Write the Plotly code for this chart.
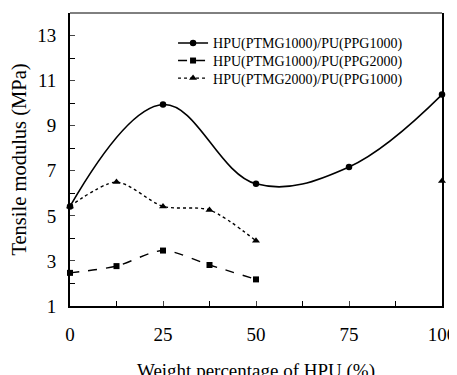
import plotly.graph_objects as go

x1 = [0, 25, 50, 75, 100]
y1 = [5.42, 9.94, 6.42, 7.17, 10.38]
x2 = [0, 12.5, 25, 37.5, 50]
y2 = [2.47, 2.77, 3.46, 2.82, 2.18]
x3 = [0, 12.5, 25, 37.5, 50, None, 100]
y3 = [5.42, 6.5, 5.42, 5.26, 3.89, None, 6.55]
names = ["HPU(PTMG1000)/PU(PPG1000)", "HPU(PTMG1000)/PU(PPG2000)", "HPU(PTMG2000)/PU(PPG1000)"]
xticks = [0, 25, 50, 75, 100]
yticks = [1, 3, 5, 7, 9, 11, 13]
xtitle = "Weight percentage of HPU (%)"
ytitle = "Tensile modulus (MPa)"

font = "Liberation Serif"
fig = go.Figure()
fig.add_trace(go.Scatter(x=x1, y=y1, name=names[0], mode="lines+markers", legend="legend",
                         line=dict(color="black", width=1.6, shape="spline", smoothing=1.1),
                         marker=dict(symbol="circle", size=6.5, color="black"), cliponaxis=False))
fig.add_trace(go.Scatter(x=x2, y=y2, name=names[1], mode="lines+markers", legend="legend2",
                         line=dict(color="black", width=1.4, dash="dash", shape="spline", smoothing=0.8),
                         marker=dict(symbol="square", size=6, color="black"), cliponaxis=False))
fig.add_trace(go.Scatter(x=x3, y=y3, name=names[2], mode="lines+markers", connectgaps=False, legend="legend3",
                         line=dict(color="black", width=1.4, dash="dot", shape="spline", smoothing=0.8),
                         marker=dict(symbol="triangle-up", size=7, color="black"), cliponaxis=False))

leg = dict(x=0.277, xanchor="left", yanchor="top", bgcolor="rgba(0,0,0,0)",
           font=dict(size=14, family=font), itemwidth=30)

fig.update_layout(
    width=449, height=367,
    margin=dict(l=62, r=15, t=5, b=69),
    paper_bgcolor="white", plot_bgcolor="white",
    font=dict(family=font, color="black", size=19),
    showlegend=True,
    legend=dict(leg, y=0.951),
    legend2=dict(leg, y=0.891),
    legend3=dict(leg, y=0.831),
    xaxis=dict(range=[0, 100], tickvals=xticks, ticks="inside", ticklen=5, tickwidth=1.2,
               showline=True, linewidth=2, linecolor="black", showgrid=False, zeroline=False,
               minor=dict(dtick=12.5, ticks="inside", ticklen=5, tickwidth=1.2, tickcolor="black"),
               ticklabelstandoff=10, automargin=False, tickfont=dict(size=19)),
    yaxis=dict(range=[1, 14], tickvals=yticks, ticks="inside", ticklen=5, tickwidth=1.2,
               showline=True, linewidth=2, linecolor="black", mirror=True, showgrid=False, zeroline=False,
               minor=dict(dtick=1, tick0=0, ticks="inside", ticklen=5, tickwidth=1.2, tickcolor="black"),
               ticklabelstandoff=8, automargin=False, tickfont=dict(size=19),
               title=dict(text=ytitle, font=dict(size=20.5), standoff=5)),
)
fig.add_annotation(text=xtitle, xref="paper", yref="paper", x=0.5, y=-0.178,
                   xanchor="center", yanchor="top", showarrow=False, font=dict(size=19, family=font))
fig.add_shape(type="line", xref="paper", yref="paper", x0=0, x1=1, y0=1, y1=1,
              line=dict(color="black", width=1))
fig.write_html("out.html")
